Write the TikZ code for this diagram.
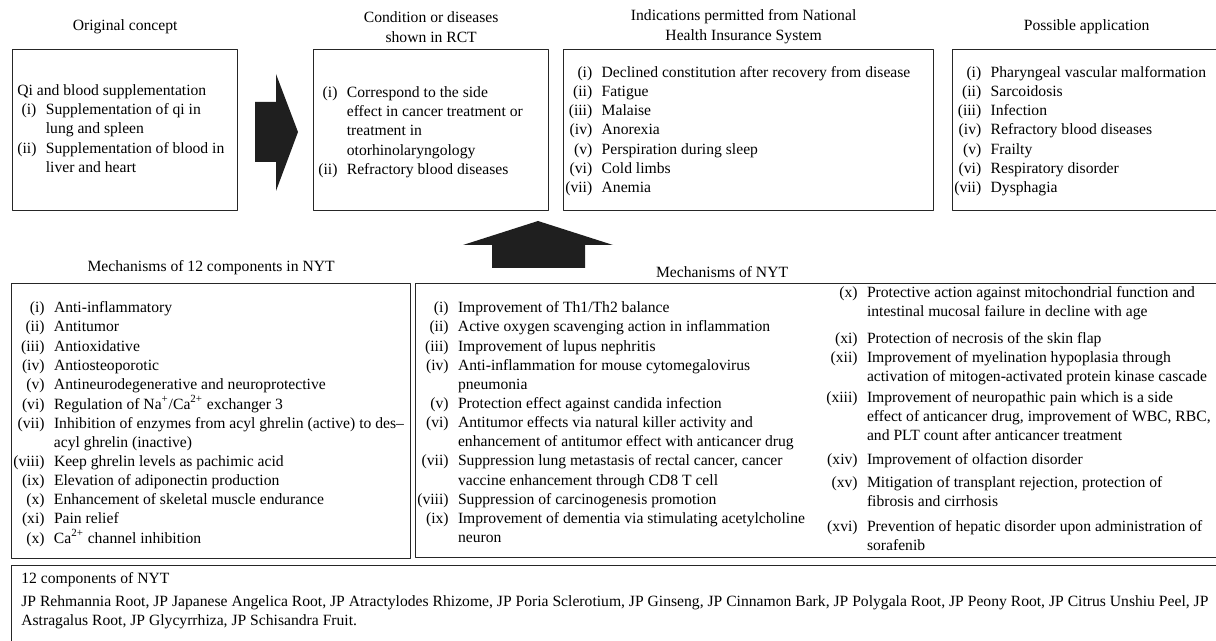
\documentclass[tikz,border=0pt]{standalone}
\usepackage{fontspec}
\setmainfont{Liberation Serif}
\usepackage{array}
\usetikzlibrary{positioning,calc}

\newcommand{\listfont}{\fontsize{8.9}{10.9}\selectfont}
\newenvironment{itemtab}{\begin{tabular}{@{}r@{\hspace{0.6em}}l@{}}}{\end{tabular}}

\begin{document}
\begin{tikzpicture}[x=0.02cm, y=-0.02cm, font=\listfont, line cap=round, line join=round]
    \tikzset{
        frame/.style={draw=black!85, line width=0.75pt, inner sep=0pt, anchor=north west},
        heading/.style={align=center, inner sep=0pt, font=\fontsize{8.9}{11.4}\selectfont},
        listing/.style={inner sep=0pt},
        blockarrow/.style={fill=black!88}
    }
    \useasboundingbox (0,0) rectangle (1216,641);

    % ---- top row of boxes ----
    \node[frame, minimum width=4.5cm,  minimum height=3.22cm] (orig) at (12,49)  {};
    \node[frame, minimum width=4.7cm,  minimum height=3.22cm] (rct)  at (313,49) {};
    \node[frame, minimum width=7.4cm,  minimum height=3.22cm] (nhis) at (563,49) {};
    \node[frame, minimum width=5.36cm, minimum height=3.22cm] (appl) at (952,49) {};

    \node[heading] (origtitle) at ($(orig.north)+(0,-22)$) {Original concept};
    \node[heading] (rcttitle)  at ($(rct.north)+(0,-22)$)  {Condition or diseases\\shown in RCT};
    \node[heading] (nhistitle) at ($(nhis.north)+(-5,-22)$) {Indications permitted from National\\Health Insurance System};
    \node[heading] (appltitle) at ($(appl.north)+(-0,-22)$) {Possible application};

    \node[listing, anchor=west] (origlist) at ($(orig.west)+(5,0)$) {\begin{itemtab}
        \multicolumn{2}{@{}l@{}}{Qi and blood supplementation}\\
        (i) & Supplementation of qi in\\
            & lung and spleen\\
        (ii) & Supplementation of blood in\\
             & liver and heart
    \end{itemtab}};
    \node[listing, anchor=west] (rctlist) at ($(rct.west)+(5,2)$) {\begin{itemtab}
        (i) & Correspond to the side\\
            & effect in cancer treatment or\\
            & treatment in\\
            & otorhinolaryngology\\
        (ii) & Refractory blood diseases
    \end{itemtab}};
    \node[listing, anchor=west] (nhislist) at ($(nhis.west)+(2,1)$) {\begin{itemtab}
        (i) & Declined constitution after recovery from disease\\
        (ii) & Fatigue\\
        (iii) & Malaise\\
        (iv) & Anorexia\\
        (v) & Perspiration during sleep\\
        (vi) & Cold limbs\\
        (vii) & Anemia
    \end{itemtab}};
    \node[listing, anchor=west] (appllist) at ($(appl.west)+(2,1)$) {\begin{itemtab}
        (i) & Pharyngeal vascular malformation\\
        (ii) & Sarcoidosis\\
        (iii) & Infection\\
        (iv) & Refractory blood diseases\\
        (v) & Frailty\\
        (vi) & Respiratory disorder\\
        (vii) & Dysphagia
    \end{itemtab}};

    % ---- block arrows ----
    \fill[blockarrow] (255,102) -- (276,102) -- (276,74) -- (298,132) -- (276,191)
        -- (276,162) -- (255,162) -- cycle;
    \fill[blockarrow] (492,268) -- (492,245) -- (463,245) -- (538,221) -- (613,245)
        -- (585,245) -- (585,268) -- cycle;

    % ---- mechanisms ----
    \node[frame, minimum width=7.98cm, minimum height=5.5cm]  (comp) at (11,283)  {};
    \node[frame, minimum width=16.1cm, minimum height=5.48cm] (mech) at (415,283) {};

    \node[heading] (comptitle) at ($(comp.north)+(0,-15)$)   {Mechanisms of 12 components in NYT};
    \node[heading] (mechtitle) at ($(mech.north)+(-96,-11)$) {Mechanisms of NYT};

    \node[listing, anchor=north west] (complist) at (13,299) {\begin{itemtab}
        (i) & Anti-inflammatory\\
        (ii) & Antitumor\\
        (iii) & Antioxidative\\
        (iv) & Antiosteoporotic\\
        (v) & Antineurodegenerative and neuroprotective\\
        (vi) & Regulation of Na\textsuperscript{+}/Ca\textsuperscript{2+} exchanger 3\\
        (vii) & Inhibition of enzymes from acyl ghrelin (active) to des--\\
              & acyl ghrelin (inactive)\\
        (viii) & Keep ghrelin levels as pachimic acid\\
        (ix) & Elevation of adiponectin production\\
        (x) & Enhancement of skeletal muscle endurance\\
        (xi) & Pain relief\\
        (x) & Ca\textsuperscript{2+} channel inhibition
    \end{itemtab}};

    \node[listing, anchor=north west] (mechleft) at (417,299) {\begin{itemtab}
        (i) & Improvement of Th1/Th2 balance\\
        (ii) & Active oxygen scavenging action in inflammation\\
        (iii) & Improvement of lupus nephritis\\
        (iv) & Anti-inflammation for mouse cytomegalovirus\\
             & pneumonia\\
        (v) & Protection effect against candida infection\\
        (vi) & Antitumor effects via natural killer activity and\\
             & enhancement of antitumor effect with anticancer drug\\
        (vii) & Suppression lung metastasis of rectal cancer, cancer\\
              & vaccine enhancement through CD8 T cell\\
        (viii) & Suppression of carcinogenesis promotion\\
        (ix) & Improvement of dementia via stimulating acetylcholine\\
             & neuron
    \end{itemtab}};

    \node[listing, anchor=north west] (mechright) at (826,284) {\begin{itemtab}
        (x) & Protective action against mitochondrial function and\\
            & intestinal mucosal failure in decline with age\\[4pt]
        (xi) & Protection of necrosis of the skin flap\\
        (xii) & Improvement of myelination hypoplasia through\\
              & activation of mitogen-activated protein kinase cascade\\[1pt]
        (xiii) & Improvement of neuropathic pain which is a side\\
               & effect of anticancer drug, improvement of WBC, RBC,\\
               & and PLT count after anticancer treatment\\[2.5pt]
        (xiv) & Improvement of olfaction disorder\\[2.5pt]
        (xv) & Mitigation of transplant rejection, protection of\\
             & fibrosis and cirrhosis\\[3pt]
        (xvi) & Prevention of hepatic disorder upon administration of\\
              & sorafenib
    \end{itemtab}};

    % ---- components ----
    \node[frame, minimum width=24.2cm, minimum height=1.9cm] (herbs) at (11,565) {};
    \node[listing, anchor=north west] (herblist) at (21,570) {\begin{tabular}{@{}l@{}}
        12 components of NYT\\[2pt]
        JP Rehmannia Root, JP Japanese Angelica Root, JP Atractylodes Rhizome, JP Poria Sclerotium, JP Ginseng, JP Cinnamon Bark, JP Polygala Root, JP Peony Root, JP Citrus Unshiu Peel, JP\\
        Astragalus Root, JP Glycyrrhiza, JP Schisandra Fruit.
    \end{tabular}};
\end{tikzpicture}
\end{document}
